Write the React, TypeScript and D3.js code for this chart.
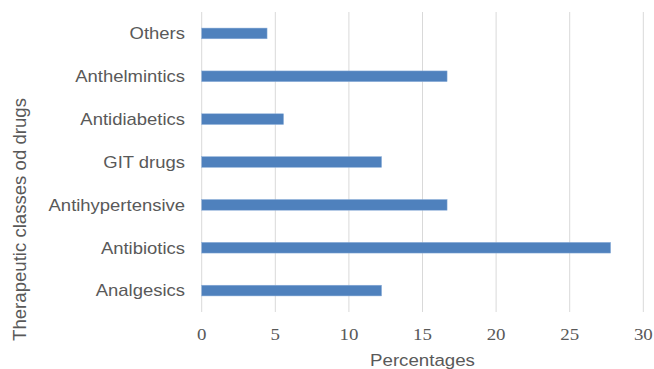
import React from 'react';
import { scaleLinear, scaleBand, range } from 'd3';

// categories listed top to bottom, as drawn
const categories = ['Others', 'Anthelmintics', 'Antidiabetics', 'GIT drugs', 'Antihypertensive', 'Antibiotics', 'Analgesics'];
const percentages = [4.44, 16.67, 5.56, 12.22, 16.67, 27.78, 12.22];
const xTicks = [0, 5, 10, 15, 20, 25, 30];
const xTitle = 'Percentages';
const yTitle = 'Therapeutic classes od drugs';

const W = 654;
const H = 369;
const margin = { top: 12, right: 10.7, bottom: 57, left: 201.7 };
const textColor = '#595959';
const sansFont = '"Liberation Sans", Arial, sans-serif';
const serifFont = '"Liberation Serif", "Times New Roman", serif';

const App = () => {
  const x = scaleLinear().domain([0, 30]).range([margin.left, W - margin.right]);
  const y = scaleBand<string>()
    .domain(categories)
    .range([margin.top, H - margin.bottom])
    .paddingInner(0.75)
    .paddingOuter(0.375);

  const gridTop = margin.top;
  const gridBottom = H - margin.bottom;

  return (
    <svg width={W} height={H} style={{ position: 'absolute', left: 0, top: 0, background: '#fff' }}>
      {/* vertical grid */}
      {xTicks.map(t => (
        <line key={'g' + t} x1={x(t)} x2={x(t)} y1={gridTop} y2={gridBottom}
          stroke="#d9d9d9" strokeWidth={1} />
      ))}

      {/* bars */}
      {categories.map((c, i) => (
        <rect key={c} x={x(0)} y={y(c)} width={x(percentages[i]) - x(0)} height={y.bandwidth()}
          fill="#4f81bd" stroke="#8eb0da" strokeWidth={0.5} />
      ))}

      {/* category labels */}
      {categories.map(c => (
        <text key={'l' + c} transform={`translate(185,${y(c)! + y.bandwidth() / 2 + 5.8}) scale(1.14,1)`}
          textAnchor="end" fontFamily={sansFont} fontSize={16.2} fill={textColor}>{c}</text>
      ))}

      {/* x tick labels */}
      {xTicks.map(t => (
        <text key={'t' + t} transform={`translate(${x(t)},340) scale(1.18,1)`}
          textAnchor="middle" fontFamily={serifFont} fontSize={16} fill={textColor}>{t}</text>
      ))}

      {/* axis titles */}
      <text transform={`translate(${(x(0) + x(30)) / 2},366) scale(1.12,1)`} textAnchor="middle"
        fontFamily={sansFont} fontSize={16.7} fill={textColor}>{xTitle}</text>
      <text transform="translate(26,219.5) rotate(-90)" textAnchor="middle"
        fontFamily={sansFont} fontSize={18.6} fill={textColor}>{yTitle}</text>
    </svg>
  );
};

export default App;
